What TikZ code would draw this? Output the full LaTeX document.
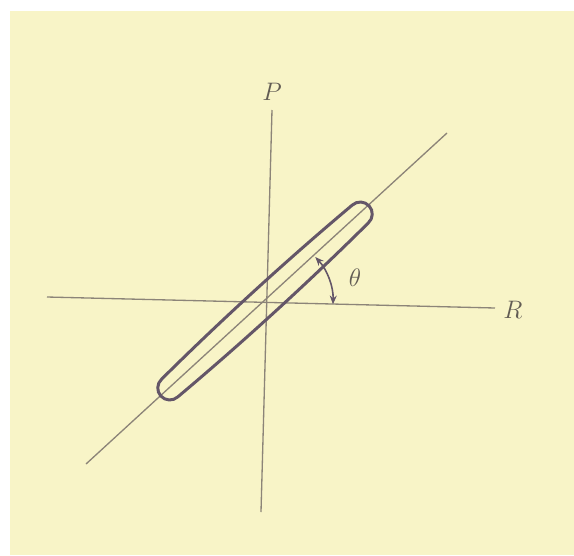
\documentclass[tikz,border=0pt]{standalone}
\usepackage{tikz}
\usetikzlibrary{arrows.meta}
\definecolor{paper}{HTML}{F8F4C7}
\definecolor{pencil}{HTML}{8C8478}
\definecolor{ink}{HTML}{645668}
\tikzset{
  axisline/.style={draw=pencil, line width=0.75pt},
  loopline/.style={draw=ink, line width=1.7pt},
  anglearc/.style={
    draw=ink, line width=0.9pt,
    {Stealth[length=5pt,width=4pt]}-{Stealth[length=5pt,width=4pt]}
  },
  axislabel/.style={text=pencil!70!black, font=\Large, inner sep=0pt},
}

\begin{document}
\begin{tikzpicture}[x=0.02cm, y=0.02cm]
  \useasboundingbox (-267,-253) rectangle (307,302);
  \fill[white] (-267,-253) rectangle (307,302);
  \fill[paper] (-257,-253) rectangle (307,291);

  % axes and the diagonal
  \coordinate (O) at (0,0);
  \coordinate (Hl) at (-220,5);
  \coordinate (Hr) at (228,-6);
  \coordinate (Vt) at (5,192);
  \coordinate (Vb) at (-6,-210);
  \coordinate (Dl) at (-181,-162);
  \coordinate (Du) at (180,169);

  \draw[axisline] (Hl) -- (Hr);
  \draw[axisline] (Vb) -- (Vt);
  \draw[axisline] (Dl) -- (Du);

  \node[axislabel] (P) at (5,210) {$P$};
  \node[axislabel] (R) at (246,-8) {$R$};

  % elongated loop along the diagonal
  \begin{scope}[shift={(-2,1)}, rotate=42.4]
    \draw[loopline] (-129,-12) .. controls (-45,-15.5) and (45,-15.5) .. (129,-12)
      arc[start angle=-90, end angle=90, radius=12]
      .. controls (45,15.5) and (-45,15.5) .. (-129,12)
      arc[start angle=90, end angle=270, radius=12] -- cycle;
  \end{scope}

  \draw[anglearc] (-2:66) arc[start angle=-2, end angle=43, radius=66];
  \node[axislabel] (theta) at (88,24) {$\theta$};
\end{tikzpicture}
\end{document}
